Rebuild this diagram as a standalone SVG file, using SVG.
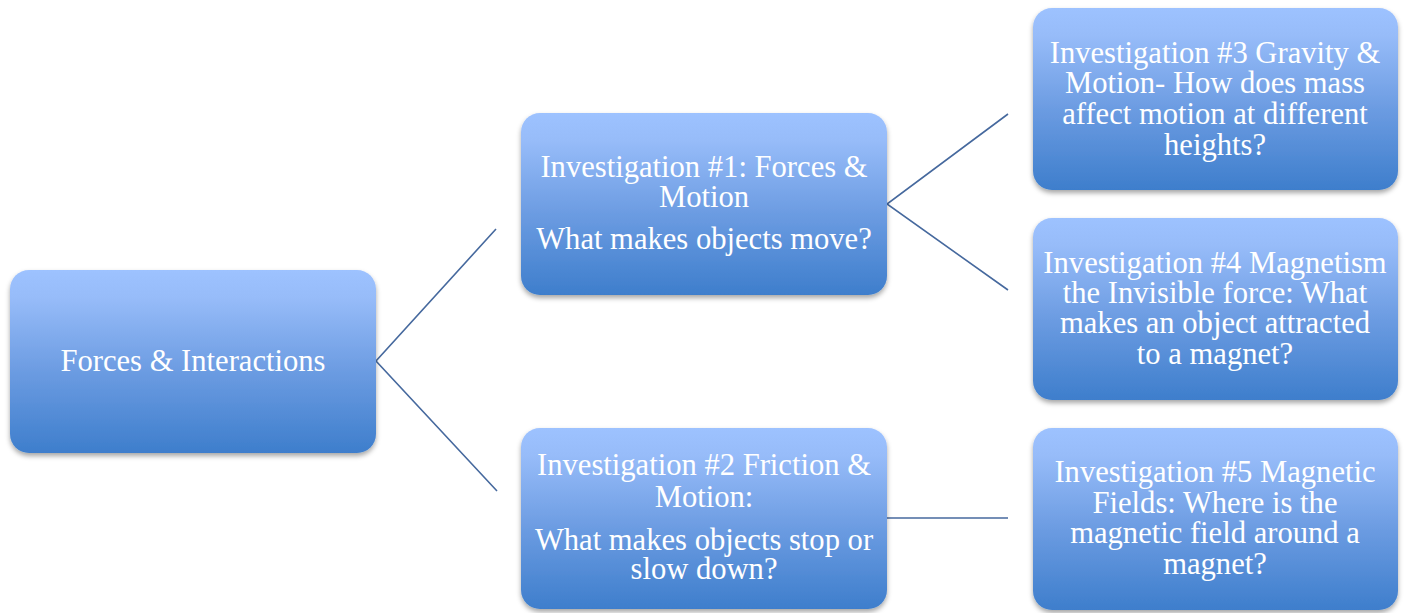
<svg xmlns="http://www.w3.org/2000/svg" width="1408" height="613" viewBox="0 0 1408 613">
<defs>
<linearGradient id="g" x1="0" y1="0" x2="0" y2="1">
<stop offset="0" stop-color="#9DC2FF"/>
<stop offset="0.15" stop-color="#97BCF9"/>
<stop offset="0.55" stop-color="#6C9CE2"/>
<stop offset="1" stop-color="#3E7ECC"/>
</linearGradient>
<filter id="sh" x="-10%" y="-10%" width="120%" height="125%">
<feDropShadow dx="0" dy="3" stdDeviation="2.5" flood-color="#000" flood-opacity="0.35"/>
</filter>
</defs>
<style>
.box{fill:url(#g);filter:url(#sh)}
.t{font-family:"Liberation Serif","Times New Roman",serif;font-size:30.6px;fill:#FFFFFF;text-anchor:middle}
.c{stroke:#46699E;stroke-width:1.6;fill:none}
</style>
<rect width="1408" height="613" fill="#FFFFFF"/>
<g id="connectors">
<polyline class="c" points="496,229 376,361 497,491"/>
<polyline class="c" points="1008,114 887,204 1008,290"/>
<line class="c" x1="887" y1="518" x2="1008" y2="518"/>
</g>
<g id="root">
<rect class="box" x="10" y="270" width="366" height="183" rx="19"/>
<text class="t" x="193" y="371">Forces &amp; Interactions</text>
</g>
<g id="inv1">
<rect class="box" x="521" y="113" width="366" height="182" rx="19"/>
<text class="t"><tspan x="704" y="176.7">Investigation #1: Forces &amp;</tspan><tspan x="704" y="206.7">Motion</tspan><tspan x="704" y="249.3">What makes objects move?</tspan></text>
</g>
<g id="inv2">
<rect class="box" x="521" y="428" width="366" height="181" rx="19"/>
<text class="t"><tspan x="704" y="475">Investigation #2 Friction &amp;</tspan><tspan x="704" y="506.7">Motion:</tspan><tspan x="704" y="550">What makes objects stop or</tspan><tspan x="704" y="579.3">slow down?</tspan></text>
</g>
<g id="inv3">
<rect class="box" x="1033" y="8" width="365" height="182" rx="19"/>
<text class="t"><tspan x="1215" y="62.7">Investigation #3 Gravity &amp;</tspan><tspan x="1215" y="93.3">Motion- How does mass</tspan><tspan x="1215" y="124">affect motion at different</tspan><tspan x="1215" y="155">heights?</tspan></text>
</g>
<g id="inv4">
<rect class="box" x="1033" y="218" width="365" height="182" rx="19"/>
<text class="t"><tspan x="1215" y="272.7">Investigation #4 Magnetism</tspan><tspan x="1215" y="302.7">the Invisible force: What</tspan><tspan x="1215" y="333.3">makes an object attracted</tspan><tspan x="1215" y="364.3">to a magnet?</tspan></text>
</g>
<g id="inv5">
<rect class="box" x="1033" y="428" width="365" height="182" rx="19"/>
<text class="t"><tspan x="1215" y="481.7">Investigation #5 Magnetic</tspan><tspan x="1215" y="512.7">Fields: Where is the</tspan><tspan x="1215" y="543.3">magnetic field around a</tspan><tspan x="1215" y="574.3">magnet?</tspan></text>
</g>
</svg>
